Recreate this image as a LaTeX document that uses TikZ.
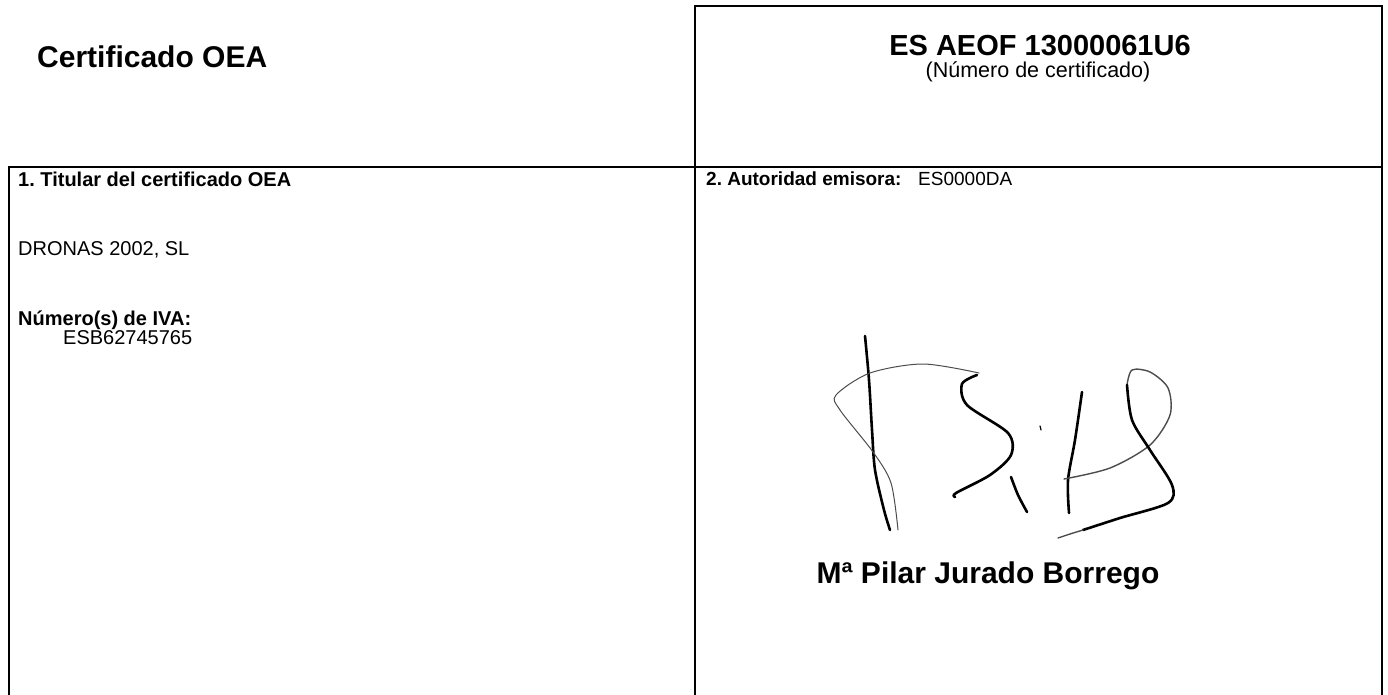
\documentclass[tikz,border=0pt]{standalone}
\usepackage{fontspec}
\setmainfont{Liberation Sans}
\usepackage{tikz}
\usetikzlibrary{positioning}
\frenchspacing

\tikzset{
  formline/.style={line width=2.6pt, black},
  lbl/.style={font=\fontsize{20}{22}\selectfont\bfseries, anchor=west, inner sep=0pt},
  txt/.style={font=\fontsize{20}{22}\selectfont, anchor=west, inner sep=0pt},
  pen/.style={line width=2.6pt, line cap=round, line join=round},
  thinpen/.style={line width=1pt, line cap=round, line join=round, black!70}
}

\begin{document}
\begin{tikzpicture}[x=1pt, y=-1pt]
  \useasboundingbox (0,0) rectangle (1388,695);

  % Form lines
  \draw[formline] (695,800) -- (695,6) -- (1382,6) -- (1382,800);
  \draw[formline] (9,800) -- (9,167) -- (1382,167);
  \clip (0,0) rectangle (1388,695);

  % Header
  \node[font=\fontsize{30}{33}\selectfont\bfseries, anchor=west, inner sep=0pt] (title) at (37,57) {Certificado OEA};
  \node[font=\fontsize{29}{32}\selectfont\bfseries, inner sep=0pt] (certno) at (1040,46) {ES AEOF 13000061U6};
  \node[font=\fontsize{21.5}{24}\selectfont, inner sep=0pt] (certsub) at (1038,72) {(Número de certificado)};

  % Box 1
  \node[lbl] (holderlbl) at (18,179) {1. Titular del certificado OEA};
  \node[txt] (holder) at (18,250) {DRONAS 2002, SL};
  \node[lbl] (vatlbl) at (18,320) {Número(s) de IVA:};
  \node[txt] (vat) at (63,338) {ESB62745765};

  % Box 2
  \node[lbl, font=\fontsize{19}{21}\selectfont\bfseries] (authlbl) at (706,179) {2. Autoridad emisora:};
  \node[txt, font=\fontsize{19}{21}\selectfont] (auth) at (918,179) {ES0000DA};

  % Signature
  \draw[pen] plot[smooth] coordinates {(865,336) (869,380) (872,430) (875,470) (884,510) (890,530)};
  \draw[thinpen] plot[smooth] coordinates {(979,373) (923,364) (870,373) (836,395) (840,410) (873,452) (891,483) (898,530)};
  \draw[pen] plot[smooth] coordinates {(977,375) (962,384) (967,405) (1008,433) (1011,455) (990,475) (956,493) (955,497)};
  \draw[pen, line width=1.2pt] (1040,426) -- (1041,430);
  \draw[pen] plot[smooth] coordinates {(1011,477) (1018,495) (1027,512)};
  \draw[pen] plot[smooth] coordinates {(1082,392) (1075,440) (1068,480) (1069,513)};
  \draw[thinpen, line width=1.4pt] plot[smooth] coordinates {(1064,479) (1110,468) (1150,445) (1170,415) (1168,388) (1150,372) (1132,370) (1127,385)};
  \draw[pen] plot[smooth] coordinates {(1127,385) (1132,420) (1150,450) (1172,485) (1168,503) (1120,518) (1083,530)};
  \draw[thinpen, line width=1.4pt] plot[smooth] coordinates {(1083,530) (1070,534) (1058,538)};

  % Signatory
  \node[font=\fontsize{30}{32}\selectfont\bfseries, inner sep=0pt] (signer) at (988,576) {Mª Pilar Jurado Borrego};
\end{tikzpicture}
\end{document}
